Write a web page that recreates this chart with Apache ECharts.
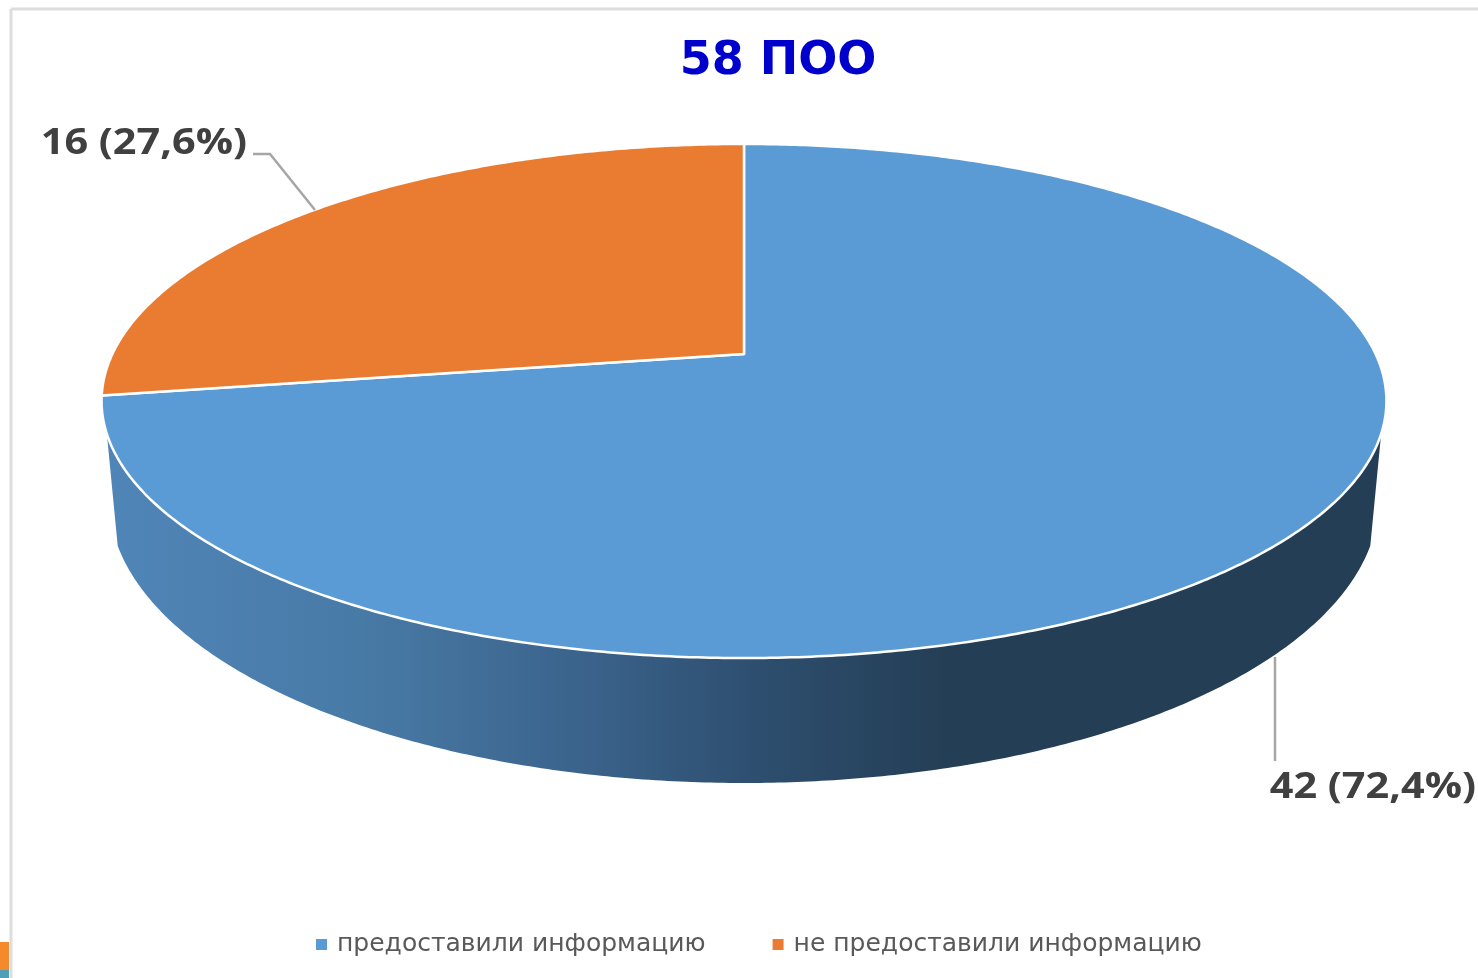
<!DOCTYPE html>
<html>
<head>
<meta charset="utf-8">
<title>58 ПОО</title>
<script src="https://cdn.jsdelivr.net/npm/echarts@6/dist/echarts.min.js"></script>
<style>
    html, body { margin: 0; padding: 0; background: #fff; }
    #chart { width: 1478px; height: 978px; }
</style>
</head>
<body>
<div id="chart"></div>
<script>
var categories = ['предоставили информацию', 'не предоставили информацию'];
var values = [42, 16];
var colors = ['#5b9bd5', '#ea7c32'];
var titleText = '58 ПОО';

var total = values[0] + values[1];
var DEG = Math.PI / 180;

// perspective of the top face
var top3d = { cx: 744, k: 631.6, a: 354, b: -183.7, c: 0.1829 };
// lower rim of the wall
var rim = { cx: 744, cy: 499, rx: 635, ry: 284, start: 9.5 };
// the part of the circle (degrees from 12 o'clock) that shows a wall
var frontFrom = 107.7;
var frontTo = 252.3;

var labelPlace = [
    { x: 1476, y: 788, line: [[1275, 657], [1275, 761]] },
    { x: 247, y: 144, line: [[253, 154], [270, 154], [315, 210]] }
];

function topPoint(deg) {
    var u = Math.sin(deg * DEG);
    var v = Math.cos(deg * DEG);
    var w = 1 + top3d.c * v;
    return [top3d.cx + top3d.k * u / w, (top3d.a + top3d.b * v) / w];
}

function rimPoint(deg) {
    // deg runs along the front arc, mapped on the lower ellipse
    var t = (deg - frontFrom) / (frontTo - frontFrom);
    var phi = (rim.start + t * (180 - 2 * rim.start)) * DEG;
    return [rim.cx + rim.rx * Math.cos(phi), rim.cy + rim.ry * Math.sin(phi)];
}

function sweep(from, to, fn) {
    var pts = [];
    for (var d = from; d < to; d += 0.5) {
        pts.push(fn(d));
    }
    pts.push(fn(to));
    return pts;
}

function percentText(v) {
    return v + ' (' + (v / total * 100).toFixed(1).replace('.', ',') + '%)';
}

function renderSlice(params) {
    var i = params.seriesIndex;
    var start = 0;
    for (var j = 0; j < i; j++) {
        start += values[j] / total * 360;
    }
    var end = start + values[i] / total * 360;
    var children = [];

    var wallFrom = Math.max(start, frontFrom);
    var wallTo = Math.min(end, frontTo);
    if (wallTo > wallFrom) {
        var wall = sweep(wallFrom, wallTo, topPoint).concat(sweep(wallFrom, wallTo, rimPoint).reverse());
        children.push({
            type: 'polygon',
            shape: { points: wall },
            style: {
                fill: new echarts.graphic.LinearGradient(0, 0, 1, 0, [
                    { offset: 0, color: '#5085b8' },
                    { offset: 0.2, color: '#487aa6' },
                    { offset: 0.38, color: '#3a628a' },
                    { offset: 0.505, color: '#2e4f70' },
                    { offset: 0.66, color: '#243e55' },
                    { offset: 1, color: '#243e55' }
                ])
            }
        });
    }

    var face = [[top3d.cx, top3d.a]].concat(sweep(start, end, topPoint));
    children.push({
        type: 'polygon',
        shape: { points: face },
        style: { fill: colors[i], stroke: '#fff', lineWidth: 2.5, lineJoin: 'round' }
    });

    var place = labelPlace[i];
    children.push({
        type: 'polyline',
        shape: { points: place.line },
        style: { fill: null, stroke: '#a6a6a6', lineWidth: 2.5 }
    });
    children.push({
        type: 'text',
        x: place.x,
        y: place.y,
        scaleX: 1.15,
        style: {
            text: percentText(values[i]),
            align: 'right',
            verticalAlign: 'middle',
            fill: '#404040',
            font: 'bold 36px "Open Sans"'
        }
    });

    return { type: 'group', children: children };
}

var chart = echarts.init(document.getElementById('chart'));

var option = {
    animation: false,
    backgroundColor: '#fff',
    title: {
        text: titleText,
        left: 773,
        top: 34,
        textAlign: 'center',
        textStyle: { color: '#0000cc', fontFamily: 'DejaVu Sans', fontWeight: 'bold', fontSize: 46 }
    },
    legend: {
        left: 311,
        top: 927,
        icon: 'rect',
        itemWidth: 11,
        itemHeight: 11,
        itemGap: 67,
        selectedMode: false,
        textStyle: { color: '#595959', fontFamily: 'DejaVu Sans', fontSize: 25, padding: [0, 0, 0, 5] },
        data: categories
    },
    graphic: [
        { type: 'line', silent: true, shape: { x1: 11, y1: 9, x2: 1478, y2: 9 }, style: { stroke: '#dddddd', lineWidth: 3 } },
        { type: 'line', silent: true, shape: { x1: 11, y1: 9, x2: 11, y2: 978 }, style: { stroke: '#dddddd', lineWidth: 3 } },
        { type: 'rect', silent: true, shape: { x: 0, y: 942, width: 9, height: 28 }, style: { fill: '#f58a2c' } },
        { type: 'rect', silent: true, shape: { x: 0, y: 970, width: 9, height: 8 }, style: { fill: '#4f9fb8' } }
    ],
    series: categories.map(function (name, i) {
        return {
            type: 'custom',
            name: name,
            coordinateSystem: 'none',
            itemStyle: { color: colors[i] },
            renderItem: renderSlice,
            data: [values[i]]
        };
    })
};

chart.setOption(option);
</script>
</body>
</html>
